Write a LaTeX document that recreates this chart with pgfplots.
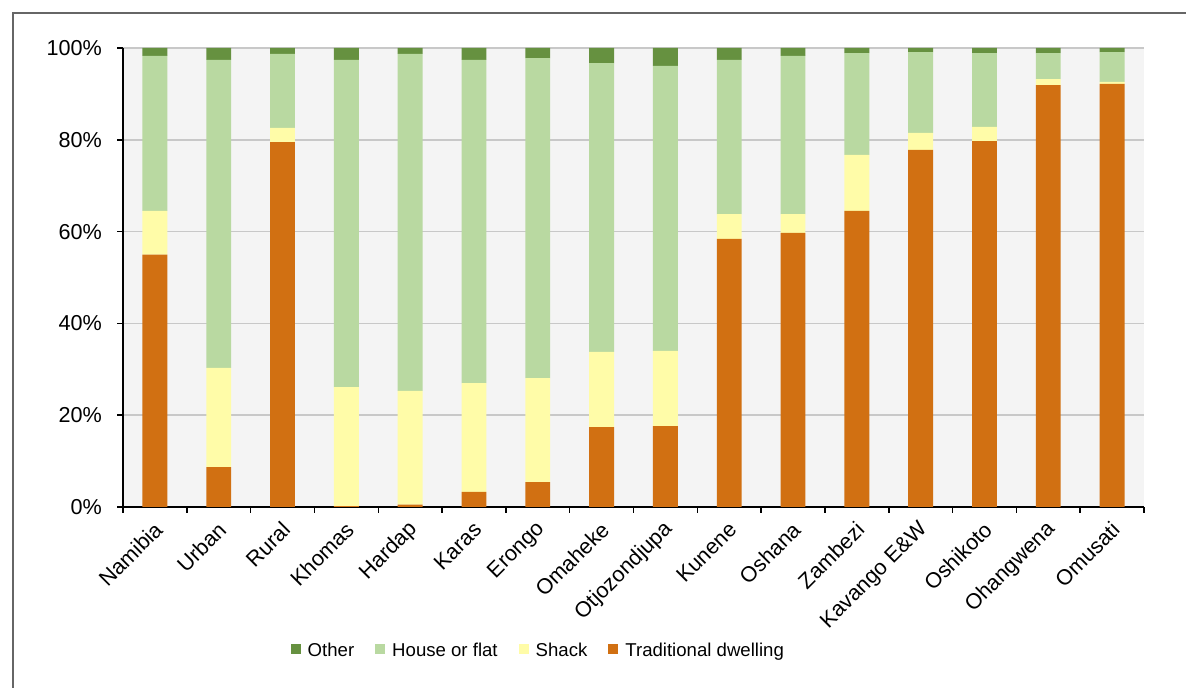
\documentclass[border=0pt]{standalone}
\usepackage{fontspec}
\setmainfont{Liberation Sans}
\usepackage{pgfplots}
\pgfplotsset{compat=1.18}

\definecolor{cOther}{RGB}{102,145,64}
\definecolor{cHouse}{RGB}{185,217,161}
\definecolor{cShack}{RGB}{255,252,168}
\definecolor{cTrad}{RGB}{209,112,18}
\definecolor{cBack}{RGB}{244,244,244}
\definecolor{cGrid}{RGB}{200,200,200}

\begin{document}
\begin{tikzpicture}
% page = 1186 x 688 px at 0.5pt per px
\path[use as bounding box] (0,0) rectangle (593pt,344pt);
\draw[black!60, line width=0.75pt] (6.5pt,0) -- (6.5pt,337.5pt) -- (593pt,337.5pt);

\begin{axis}[
  at={(61.5pt,90.5pt)}, anchor=south west,
  scale only axis,
  width=510.5pt, height=229.5pt,
  ybar stacked, bar width=0.39,
  xmin=-0.5, xmax=15.5,
  ymin=0, ymax=100,
  axis background/.style={fill=cBack},
  axis x line*=bottom, axis y line*=left,
  axis line style={-, black, line width=0.75pt},
  tick align=outside, major tick length=3pt,
  tick style={black, line width=0.75pt},
  ytick={0,20,40,60,80,100},
  yticklabel={\pgfmathprintnumber[assume math mode=true]{\tick}\%},
  yticklabel style={xshift=-4pt},
  ymajorgrids, grid style={cGrid, line width=0.75pt},
  xtick={-0.5,0.5,1.5,2.5,3.5,4.5,5.5,6.5,7.5,8.5,9.5,10.5,11.5,12.5,13.5,14.5,15.5},
  xticklabels={},
  extra x ticks={0,1,2,3,4,5,6,7,8,9,10,11,12,13,14,15},
  extra x tick labels={Namibia,Urban,Rural,Khomas,Hardap,Karas,Erongo,Omaheke,Otjozondjupa,Kunene,Oshana,Zambezi,Kavango E\&W,Oshikoto,Ohangwena,Omusati},
  extra x tick style={major tick length=0pt, grid=none,
    tick label style={rotate=45, anchor=east, xshift=-2pt, yshift=-8pt}},
  ticklabel style={font=\fontsize{10.8}{12}\selectfont},
  legend style={draw=none, fill=none, at={(0.158,-0.314)}, anchor=west,
    font=\fontsize{9.3}{11}\selectfont, legend columns=4,
    /tikz/every odd column/.append style={column sep=1.5pt},
    /tikz/every even column/.append style={column sep=8.5pt}},
  legend image code/.code={\fill[#1, draw=none] (0pt,-1.2pt) rectangle (5pt,3.8pt);},
  reverse legend,
]
\addplot+[fill=cTrad, draw=none] coordinates {
(0,55.0) (1,8.7) (2,79.5) (3,0.2) (4,0.5) (5,3.3) (6,5.4) (7,17.4)
(8,17.6) (9,58.4) (10,59.7) (11,64.5) (12,77.8) (13,79.7) (14,91.9) (15,92.2)};
\addlegendentry{Traditional dwelling}
\addplot+[fill=cShack, draw=none] coordinates {
(0,9.5) (1,21.6) (2,3.1) (3,25.9) (4,24.8) (5,23.7) (6,22.7) (7,16.4)
(8,16.4) (9,5.4) (10,4.1) (11,12.2) (12,3.7) (13,3.1) (14,1.3) (15,0.4)};
\addlegendentry{Shack}
\addplot+[fill=cHouse, draw=none] coordinates {
(0,33.8) (1,67.1) (2,16.1) (3,71.3) (4,73.4) (5,70.4) (6,69.7) (7,62.9)
(8,62.1) (9,33.6) (10,34.5) (11,22.2) (12,17.6) (13,16.1) (14,5.7) (15,6.5)};
\addlegendentry{House or flat}
\addplot+[fill=cOther, draw=none] coordinates {
(0,1.7) (1,2.6) (2,1.3) (3,2.6) (4,1.3) (5,2.6) (6,2.2) (7,3.3)
(8,3.9) (9,2.6) (10,1.7) (11,1.1) (12,0.9) (13,1.1) (14,1.1) (15,0.9)};
\addlegendentry{Other}
\end{axis}
\end{tikzpicture}
\end{document}
